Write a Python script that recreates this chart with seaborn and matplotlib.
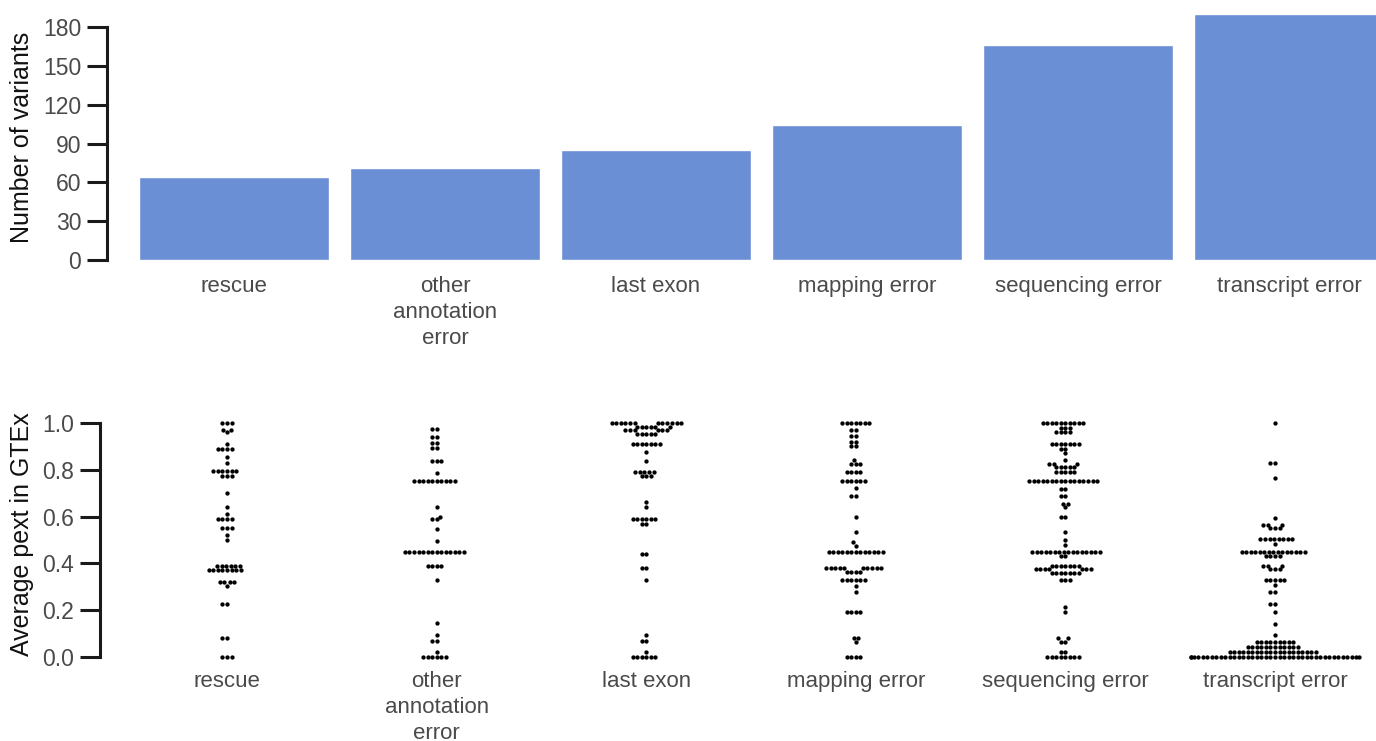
import numpy as np
import pandas as pd
import matplotlib
matplotlib.use("Agg")
import matplotlib.pyplot as plt
import seaborn as sns

# categories, ordered by number of variants
categories = ["rescue", "other annotation error", "last exon",
              "mapping error", "sequencing error", "transcript error"]
tick_labels = ["rescue", "other\nannotation\nerror", "last exon",
               "mapping error", "sequencing error", "transcript error"]
n_variants = [64, 71, 85, 104, 166, 190]

rescue_vals = [1.0, 0.97, 0.96, 0.91, 0.89, 0.855, 0.83, 0.795, 0.775, 0.70, 0.64, 0.61,
               0.59, 0.55, 0.52, 0.50, 0.39, 0.372, 0.32, 0.305, 0.225, 0.08, 0.0]
rescue_counts = [3, 2, 1, 1, 4, 1, 1, 6, 3, 1, 1, 1, 4, 3, 1, 1, 6, 8, 4, 1, 2, 2, 3]

other_vals = [0.973, 0.939, 0.914, 0.893, 0.839, 0.788, 0.752, 0.642, 0.60, 0.59, 0.547,
              0.496, 0.447, 0.389, 0.328, 0.145, 0.094, 0.068, 0.021, 0.0]
other_counts = [2, 2, 2, 2, 3, 1, 10, 1, 1, 2, 1, 1, 14, 4, 1, 1, 1, 2, 1, 6]

last_exon_vals = [1.0, 0.985, 0.97, 0.955, 0.91, 0.876, 0.839, 0.792, 0.775, 0.662,
                  0.641, 0.59, 0.57, 0.44, 0.38, 0.329, 0.094, 0.07, 0.021, 0.0]
last_exon_counts = [12, 6, 6, 5, 7, 1, 1, 5, 3, 1, 1, 6, 2, 2, 2, 1, 1, 2, 1, 6]

mapping_vals = [1.0, 0.97, 0.944, 0.92, 0.90, 0.842, 0.825, 0.792, 0.752, 0.724, 0.688,
                0.60, 0.534, 0.49, 0.475, 0.447, 0.38, 0.365, 0.329, 0.305, 0.277, 0.192,
                0.081, 0.065, 0.0]
mapping_counts = [7, 2, 2, 2, 2, 1, 3, 4, 6, 1, 2, 1, 1, 1, 1, 13, 10, 4, 6, 1, 1, 4, 2, 1, 4]

sequencing_vals = [1.0, 0.98, 0.96, 0.91, 0.89, 0.87, 0.84, 0.825, 0.81, 0.79, 0.752,
                   0.72, 0.69, 0.655, 0.64, 0.60, 0.535, 0.50, 0.48, 0.447, 0.43, 0.39,
                   0.375, 0.36, 0.329, 0.213, 0.192, 0.08, 0.065, 0.021, 0.0]
sequencing_counts = [10, 3, 4, 7, 2, 1, 1, 3, 5, 5, 16, 2, 2, 2, 1, 2, 1, 1, 1, 16, 2,
                     7, 7, 7, 3, 1, 1, 2, 2, 2, 8]

transcript_vals = [1.0, 0.828, 0.765, 0.595, 0.565, 0.55, 0.503, 0.485, 0.447, 0.43,
                   0.39, 0.375, 0.329, 0.307, 0.277, 0.225, 0.192, 0.142, 0.094, 0.063,
                   0.042, 0.021, 0.0]
transcript_counts = [1, 2, 1, 1, 3, 3, 8, 1, 15, 4, 3, 3, 5, 1, 2, 2, 1, 1, 1, 9,
                     12, 20, 40]

pext_vals = [rescue_vals, other_vals, last_exon_vals, mapping_vals,
             sequencing_vals, transcript_vals]
pext_counts = [rescue_counts, other_counts, last_exon_counts, mapping_counts,
               sequencing_counts, transcript_counts]

bar_df = pd.DataFrame({"category": categories, "n": n_variants})
pext_df = pd.concat([
    pd.DataFrame({"category": c, "pext": np.repeat(v, k)})
    for c, v, k in zip(categories, pext_vals, pext_counts)
], ignore_index=True)

sns.set_style("white")
plt.rcParams["font.family"] = ["Liberation Sans", "DejaVu Sans"]

W, H = 1376, 741
fig = plt.figure(figsize=(W / 100, H / 100), dpi=100)

tick_color = "#4a4a4a"
line_color = "#1a1a1a"
bar_color = "#6a8fd5"


def style_axis(ax, top, bottom, ticks, fmt, outward):
    sns.despine(ax=ax, bottom=True)
    ax.spines["left"].set_position(("outward", outward))
    ax.spines["left"].set_bounds(top, bottom)
    ax.spines["left"].set_linewidth(2.2)
    ax.spines["left"].set_color(line_color)
    ax.set_yticks(ticks)
    ax.set_yticklabels([fmt.format(t) for t in ticks])
    ax.tick_params(axis="y", length=14.5, width=2.2, color=line_color,
                   labelsize=16.5, labelcolor=tick_color, pad=4, left=True)
    ax.set_xlabel("")


# top: number of variants per category
ax1 = fig.add_axes([128.5 / W, 1 - 260 / H, 1266 / W, 252.4 / H])
sns.barplot(data=bar_df, x="category", y="n", color=bar_color, width=0.9,
            saturation=1, ax=ax1)
ax1.set_ylim(0, 195)
ax1.set_xlim(-0.5, 5.5)
style_axis(ax1, 0, 180, np.arange(0, 181, 30), "{:.0f}", 15.5)
ax1.set_xticks(range(len(categories)))
ax1.set_xticklabels(tick_labels, linespacing=1.3)
ax1.tick_params(axis="x", length=0, labelsize=16, labelcolor=tick_color, pad=11.5)
ax1.set_ylabel("Number of variants", fontsize=18, color="#111111")
ax1.yaxis.set_label_coords(34 / W, 1 - 137 / H, transform=fig.transFigure)

# bottom: average pext of each variant
ax2 = fig.add_axes([122.2 / W, 1 - 664 / H, 1257.6 / W, 248 / H])
sns.swarmplot(data=pext_df, x="category", y="pext", color="black", size=3.1,
              ax=ax2)
ax2.set_ylim(-0.03, 1.03)
ax2.set_xlim(-0.5, 5.5)
style_axis(ax2, 0, 1, np.arange(0, 1.01, 0.2), "{:.1f}", 16)
ax2.set_xticks(range(len(categories)))
ax2.set_xticklabels(tick_labels, linespacing=1.3)
ax2.tick_params(axis="x", length=0, labelsize=16, labelcolor=tick_color, pad=5)
ax2.set_ylabel("Average pext in GTEx", fontsize=18, color="#111111")
ax2.yaxis.set_label_coords(34 / W, 1 - 534 / H, transform=fig.transFigure)

fig.savefig("out.png", dpi=100)
